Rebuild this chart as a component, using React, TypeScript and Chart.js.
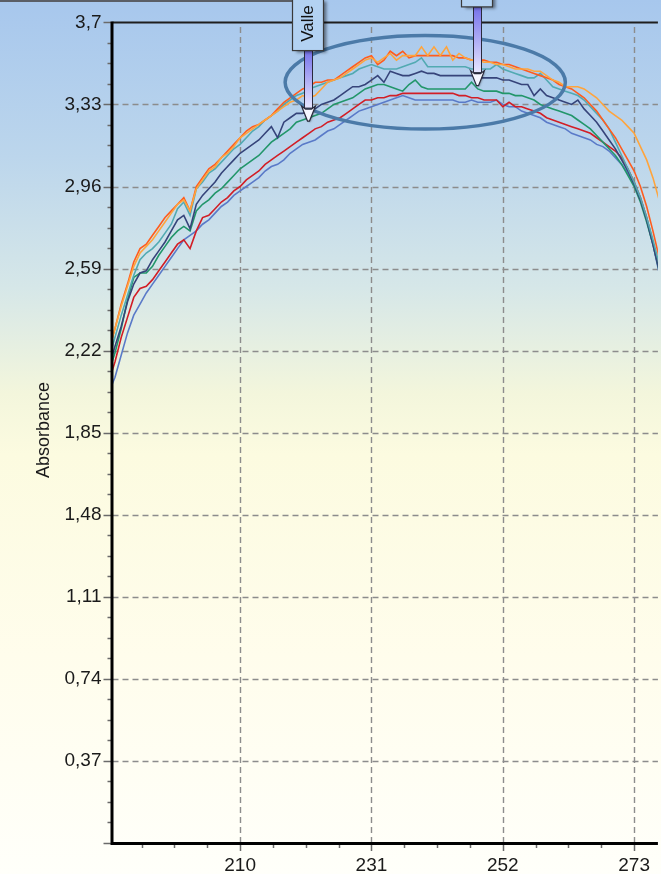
import React, { useEffect, useRef } from "react";
import { Chart, registerables } from "chart.js";

Chart.register(...registerables);

const WAVELENGTHS = [
  189, 190, 191, 192, 193, 194, 195, 196, 197, 198,
  199, 200, 201, 202, 203, 204, 205, 206, 207, 208,
  209, 210, 211, 212, 213, 214, 215, 216, 217, 218,
  219, 220, 221, 222, 223, 224, 225, 226, 227, 228,
  229, 230, 231, 232, 233, 234, 235, 236, 237, 238,
  239, 240, 241, 242, 243, 244, 245, 246, 247, 248,
  249, 250, 251, 252, 253, 254, 255, 256, 257, 258,
  259, 260, 261, 262, 263, 264, 265, 266, 267, 268,
  269, 270, 271, 272, 273, 274, 275, 276, 277,
];

const SERIES_ORANGE_RED = [
  2.22, 2.32, 2.43, 2.52, 2.62, 2.68, 2.70, 2.74, 2.78, 2.82,
  2.85, 2.88, 2.91, 2.85, 2.96, 3.00, 3.04, 3.06, 3.09, 3.12,
  3.15, 3.18, 3.21, 3.23, 3.24, 3.26, 3.28, 3.31, 3.34, 3.36,
  3.38, 3.40, 3.41, 3.43, 3.43, 3.44, 3.44, 3.46, 3.48, 3.50,
  3.52, 3.54, 3.55, 3.51, 3.53, 3.57, 3.55, 3.57, 3.54, 3.55,
  3.55, 3.55, 3.55, 3.55, 3.55, 3.55, 3.54, 3.54, 3.53, 3.53,
  3.53, 3.52, 3.52, 3.51, 3.51, 3.50, 3.49, 3.48, 3.47, 3.46,
  3.45, 3.44, 3.42, 3.41, 3.40, 3.38, 3.36, 3.33, 3.30, 3.26,
  3.22, 3.18, 3.13, 3.08, 3.03, 2.96, 2.87, 2.76, 2.64,
];

const SERIES_LIGHT_ORANGE = [
  2.22, 2.32, 2.42, 2.51, 2.60, 2.66, 2.69, 2.72, 2.76, 2.80,
  2.84, 2.88, 2.90, 2.85, 2.95, 2.99, 3.03, 3.05, 3.09, 3.11,
  3.14, 3.18, 3.20, 3.22, 3.24, 3.26, 3.28, 3.30, 3.32, 3.34,
  3.35, 3.37, 3.36, 3.37, 3.40, 3.43, 3.44, 3.45, 3.47, 3.49,
  3.51, 3.53, 3.54, 3.52, 3.54, 3.56, 3.53, 3.55, 3.55, 3.55,
  3.59, 3.55, 3.59, 3.55, 3.59, 3.53, 3.56, 3.54, 3.53, 3.53,
  3.52, 3.52, 3.51, 3.51, 3.50, 3.49, 3.49, 3.49, 3.48, 3.48,
  3.46, 3.44, 3.43, 3.41, 3.41, 3.41, 3.40, 3.38, 3.36, 3.33,
  3.30, 3.28, 3.26, 3.23, 3.20, 3.14, 3.08, 3.00, 2.90,
];

const SERIES_TEAL = [
  2.18, 2.28, 2.38, 2.47, 2.56, 2.63, 2.66, 2.68, 2.71, 2.75,
  2.79, 2.86, 2.89, 2.83, 2.95, 2.98, 3.02, 3.04, 3.07, 3.10,
  3.13, 3.15, 3.18, 3.21, 3.23, 3.26, 3.28, 3.30, 3.33, 3.35,
  3.37, 3.38, 3.40, 3.41, 3.42, 3.43, 3.44, 3.45, 3.46, 3.47,
  3.49, 3.50, 3.51, 3.50, 3.49, 3.49, 3.49, 3.50, 3.51, 3.52,
  3.54, 3.50, 3.50, 3.50, 3.50, 3.50, 3.50, 3.50, 3.49, 3.49,
  3.49, 3.49, 3.51, 3.49, 3.48, 3.47, 3.46, 3.45, 3.45, 3.47,
  3.44, 3.41, 3.40, 3.39, 3.38, 3.37, 3.35, 3.32, 3.29, 3.26,
  3.22, 3.16, 3.10, 3.04, 2.98, 2.91, 2.82, 2.72, 2.61,
];

const SERIES_NAVY = [
  2.14, 2.24, 2.33, 2.44, 2.52, 2.57, 2.58, 2.63, 2.67, 2.71,
  2.76, 2.81, 2.83, 2.77, 2.88, 2.92, 2.95, 2.98, 3.02, 3.05,
  3.08, 3.11, 3.13, 3.15, 3.17, 3.20, 3.23, 3.18, 3.25, 3.27,
  3.29, 3.29, 3.30, 3.31, 3.33, 3.34, 3.35, 3.37, 3.39, 3.41,
  3.41, 3.42, 3.44, 3.46, 3.43, 3.48, 3.47, 3.46, 3.46, 3.47,
  3.48, 3.47, 3.47, 3.46, 3.46, 3.46, 3.46, 3.46, 3.46, 3.45,
  3.45, 3.45, 3.45, 3.44, 3.44, 3.43, 3.42, 3.42, 3.37, 3.40,
  3.37, 3.36, 3.35, 3.34, 3.33, 3.35, 3.31, 3.28, 3.25, 3.21,
  3.17, 3.13, 3.08, 3.03, 2.97, 2.90, 2.81, 2.70, 2.58,
];

const SERIES_GREEN = [
  2.12, 2.21, 2.32, 2.45, 2.55, 2.57, 2.57, 2.60, 2.65, 2.69,
  2.73, 2.76, 2.78, 2.76, 2.85, 2.88, 2.90, 2.93, 2.95, 2.98,
  3.01, 3.04, 3.06, 3.08, 3.10, 3.13, 3.16, 3.18, 3.20, 3.22,
  3.25, 3.26, 3.27, 3.28, 3.29, 3.31, 3.33, 3.34, 3.35, 3.36,
  3.38, 3.40, 3.41, 3.42, 3.42, 3.41, 3.40, 3.39, 3.42, 3.44,
  3.41, 3.40, 3.40, 3.40, 3.40, 3.40, 3.40, 3.40, 3.43, 3.40,
  3.39, 3.39, 3.39, 3.38, 3.38, 3.37, 3.37, 3.36, 3.35, 3.33,
  3.32, 3.31, 3.30, 3.29, 3.28, 3.26, 3.24, 3.22, 3.19, 3.16,
  3.13, 3.10, 3.06, 3.01, 2.96, 2.89, 2.80, 2.70, 2.58,
];

const SERIES_RED = [
  2.08, 2.17, 2.28, 2.37, 2.46, 2.50, 2.51, 2.54, 2.58, 2.62,
  2.66, 2.70, 2.72, 2.68, 2.76, 2.82, 2.83, 2.86, 2.89, 2.91,
  2.94, 2.96, 2.99, 3.01, 3.03, 3.06, 3.08, 3.10, 3.12, 3.14,
  3.16, 3.18, 3.20, 3.22, 3.23, 3.25, 3.26, 3.27, 3.29, 3.31,
  3.33, 3.35, 3.35, 3.36, 3.36, 3.37, 3.37, 3.38, 3.38, 3.38,
  3.38, 3.38, 3.38, 3.38, 3.38, 3.38, 3.37, 3.37, 3.36, 3.36,
  3.35, 3.35, 3.35, 3.32, 3.34, 3.32, 3.32, 3.31, 3.30, 3.29,
  3.27, 3.26, 3.25, 3.24, 3.23, 3.22, 3.21, 3.20, 3.18, 3.16,
  3.14, 3.12, 3.09, 3.04, 2.98, 2.91, 2.82, 2.71, 2.59,
];

const SERIES_BLUE = [
  2.03, 2.10, 2.20, 2.30, 2.38, 2.43, 2.48, 2.52, 2.56, 2.60,
  2.64, 2.68, 2.72, 2.74, 2.76, 2.79, 2.81, 2.84, 2.87, 2.89,
  2.92, 2.94, 2.96, 2.98, 3.00, 3.03, 3.05, 3.06, 3.08, 3.11,
  3.13, 3.15, 3.16, 3.17, 3.19, 3.21, 3.22, 3.24, 3.26, 3.28,
  3.30, 3.31, 3.32, 3.33, 3.34, 3.35, 3.36, 3.37, 3.36, 3.35,
  3.35, 3.35, 3.35, 3.35, 3.35, 3.35, 3.34, 3.34, 3.35, 3.34,
  3.34, 3.34, 3.35, 3.33, 3.32, 3.32, 3.30, 3.29, 3.28, 3.27,
  3.25, 3.24, 3.23, 3.22, 3.20, 3.19, 3.18, 3.17, 3.15, 3.14,
  3.12, 3.09, 3.06, 3.02, 2.97, 2.90, 2.81, 2.70, 2.57,
];

const SERIES_NAMES = ["Muestra 1", "Muestra 2", "Muestra 3", "Muestra 4", "Muestra 5", "Muestra 6", "Muestra 7"];
const SERIES_COLORS = ["#ffa43c", "#ff5c1e", "#52aab2", "#36447a", "#22966a", "#d21e26", "#5a7ac8"];

const X_TICKS = [210, 231, 252, 273];
const Y_TICKS = [0, 0.37, 0.74, 1.11, 1.48, 1.85, 2.22, 2.59, 2.96, 3.33, 3.7];
const Y_TICK_LABELS = ["", "0,37", "0,74", "1,11", "1,48", "1,85", "2,22", "2,59", "2,96", "3,33", "3,7"];
const Y_TITLE = "Absorbance";
const VALLEY_LABEL = "Valle";

// annotation anchors in data units
const VALLEY_ARROW = { x: 220.8, tip: 3.255, boxBottom: 3.573 };
const PEAK_ARROW = { x: 247.9, tip: 3.415, boxBottom: 3.77 };
const HIGHLIGHT = { x: 239.6, y: 3.43, rx: 22.4, ry: 0.211 };

const X_MIN = 189.6;
const X_MAX = 276.8;
const Y_MAX = 3.7;
const PLOT_TOP = 18.6;
const FONT = "'Liberation Sans', Arial, sans-serif";

function minorValues(majors: number[], min: number, max: number) {
  const out: number[] = [];
  const step = (majors[1] - majors[0]) / 4;
  const first = majors[0];
  const last = majors[majors.length - 1];
  for (let v = first - step; v >= min - 1e-9; v -= step) out.push(v);
  for (let i = 0; i < majors.length - 1; i++) {
    for (let k = 1; k < 4; k++) out.push(majors[i] + step * k);
  }
  for (let v = last + step; v <= max + 1e-9; v += step) out.push(v);
  return out;
}

const backgroundPlugin = {
  id: "bgGradient",
  beforeDraw(chart: any) {
    const { ctx, width, height } = chart;
    ctx.save();
    const g = ctx.createLinearGradient(0, 0, 0, height);
    g.addColorStop(0, "#a7c7ed");
    g.addColorStop(0.18, "#bcd6ec");
    g.addColorStop(0.33, "#d6e7e8");
    g.addColorStop(0.45, "#f3f6dc");
    g.addColorStop(0.52, "#fcfbe0");
    g.addColorStop(0.75, "#fffdec");
    g.addColorStop(1, "#fffffa");
    ctx.fillStyle = g;
    ctx.fillRect(0, 0, width, height);
    ctx.fillStyle = "#5a5e66";
    ctx.fillRect(0, 0, 292, 2);
    ctx.restore();
  },
};

const gridPlugin = {
  id: "dashedGrid",
  beforeDatasetsDraw(chart: any) {
    const { ctx, chartArea, scales } = chart;
    const { left, right } = chartArea;
    const top = scales.y.getPixelForValue(Y_MAX);
    const bottom = scales.y.getPixelForValue(0);
    ctx.save();
    ctx.strokeStyle = "#8c8c8c";
    ctx.lineWidth = 1.4;
    ctx.setLineDash([6, 4]);
    X_TICKS.forEach((v) => {
      const px = Math.round(scales.x.getPixelForValue(v)) + 0.5;
      ctx.beginPath();
      ctx.moveTo(px, bottom);
      ctx.lineTo(px, top);
      ctx.stroke();
    });
    Y_TICKS.forEach((v) => {
      if (v <= 0 || v >= Y_MAX) return;
      const py = Math.round(scales.y.getPixelForValue(v)) + 0.5;
      ctx.beginPath();
      ctx.moveTo(left, py);
      ctx.lineTo(right, py);
      ctx.stroke();
    });
    ctx.restore();
  },
};

const framePlugin = {
  id: "frame",
  afterDatasetsDraw(chart: any) {
    const { ctx, chartArea, scales } = chart;
    const { left, right } = chartArea;
    const top = scales.y.getPixelForValue(Y_MAX);
    const bottom = scales.y.getPixelForValue(0);
    ctx.save();
    ctx.strokeStyle = "#6a6a6a";
    ctx.lineWidth = 1.5;
    Y_TICKS.forEach((v) => {
      const py = Math.round(scales.y.getPixelForValue(v)) + 0.5;
      ctx.beginPath();
      ctx.moveTo(left - 9, py);
      ctx.lineTo(left, py);
      ctx.stroke();
    });
    minorValues(Y_TICKS, 0, Y_MAX).forEach((v) => {
      const py = Math.round(scales.y.getPixelForValue(v)) + 0.5;
      ctx.beginPath();
      ctx.moveTo(left - 5, py);
      ctx.lineTo(left, py);
      ctx.stroke();
    });
    X_TICKS.forEach((v) => {
      const px = Math.round(scales.x.getPixelForValue(v)) + 0.5;
      ctx.beginPath();
      ctx.moveTo(px, bottom);
      ctx.lineTo(px, bottom + 8);
      ctx.stroke();
    });
    minorValues(X_TICKS, X_MIN, X_MAX).forEach((v) => {
      const px = Math.round(scales.x.getPixelForValue(v)) + 0.5;
      ctx.beginPath();
      ctx.moveTo(px, bottom);
      ctx.lineTo(px, bottom + 5);
      ctx.stroke();
    });
    ctx.strokeStyle = "#1e1e1e";
    ctx.lineWidth = 2;
    ctx.beginPath();
    ctx.moveTo(left, top);
    ctx.lineTo(right, top);
    ctx.stroke();
    ctx.strokeStyle = "#000";
    ctx.lineWidth = 3;
    ctx.beginPath();
    ctx.moveTo(left - 0.5, top - 1);
    ctx.lineTo(left - 0.5, bottom + 0.5);
    ctx.lineTo(right, bottom + 0.5);
    ctx.stroke();
    ctx.fillStyle = "#1a1a1a";
    ctx.font = `18px ${FONT}`;
    ctx.textAlign = "center";
    ctx.textBaseline = "middle";
    ctx.translate(44, 430);
    ctx.rotate(-Math.PI / 2);
    ctx.fillText(Y_TITLE, 0, 0);
    ctx.restore();
  },
};

function drawArrow(ctx: CanvasRenderingContext2D, cx: number, y0: number, tip: number) {
  const headH = 15;
  const shaftEnd = tip - headH + 2;
  ctx.save();
  const g = ctx.createLinearGradient(0, y0, 0, shaftEnd);
  g.addColorStop(0, "#7672ea");
  g.addColorStop(1, "#e6e6ff");
  ctx.fillStyle = g;
  ctx.strokeStyle = "#2a2a3c";
  ctx.lineWidth = 1;
  ctx.fillRect(cx - 4, y0, 8, shaftEnd - y0);
  ctx.strokeRect(cx - 4, y0, 8, shaftEnd - y0);
  ctx.shadowColor = "rgba(0,0,0,0.35)";
  ctx.shadowBlur = 2;
  ctx.shadowOffsetX = 1;
  ctx.shadowOffsetY = 1;
  ctx.beginPath();
  ctx.moveTo(cx - 7, tip - headH);
  ctx.lineTo(cx - 3, tip - headH + 3);
  ctx.lineTo(cx + 3, tip - headH + 3);
  ctx.lineTo(cx + 7, tip - headH);
  ctx.lineTo(cx + 1, tip);
  ctx.lineTo(cx - 1, tip);
  ctx.closePath();
  ctx.fillStyle = "#f6f6ff";
  ctx.fill();
  ctx.shadowColor = "transparent";
  ctx.lineWidth = 1.2;
  ctx.stroke();
  ctx.restore();
}

function drawLabelBox(ctx: CanvasRenderingContext2D, cx: number, bottomY: number, text: string) {
  const w = 31;
  const h = 52;
  const x = cx - w / 2 - 0.5;
  const y = bottomY - h;
  ctx.save();
  ctx.shadowColor = "rgba(0,0,0,0.45)";
  ctx.shadowBlur = 3;
  ctx.shadowOffsetX = 3;
  ctx.shadowOffsetY = 2;
  ctx.fillStyle = "#b3d2f2";
  ctx.fillRect(x, y, w, h);
  ctx.shadowColor = "transparent";
  ctx.strokeStyle = "#3a3a3a";
  ctx.lineWidth = 1.2;
  ctx.strokeRect(x, y, w, h);
  if (text) {
    ctx.fillStyle = "#111";
    ctx.font = `17px ${FONT}`;
    ctx.textAlign = "center";
    ctx.textBaseline = "middle";
    ctx.translate(cx, bottomY - 27);
    ctx.rotate(-Math.PI / 2);
    ctx.fillText(text, 0, 0);
  }
  ctx.restore();
}

const annotationPlugin = {
  id: "annotations",
  afterDraw(chart: any) {
    const { ctx, scales } = chart;
    const xs = scales.x;
    const ys = scales.y;
    const ex = xs.getPixelForValue(HIGHLIGHT.x);
    const ey = ys.getPixelForValue(HIGHLIGHT.y);
    const erx = xs.getPixelForValue(HIGHLIGHT.x + HIGHLIGHT.rx) - ex;
    const ery = ey - ys.getPixelForValue(HIGHLIGHT.y + HIGHLIGHT.ry);
    ctx.save();
    ctx.strokeStyle = "#4b7aa8";
    ctx.lineWidth = 3.5;
    ctx.beginPath();
    ctx.ellipse(ex, ey, erx, ery, 0, 0, Math.PI * 2);
    ctx.stroke();
    ctx.restore();

    [
      { a: VALLEY_ARROW, label: VALLEY_LABEL },
      { a: PEAK_ARROW, label: "" },
    ].forEach(({ a, label }) => {
      const cx = Math.round(xs.getPixelForValue(a.x)) + 0.5;
      const bottomY = ys.getPixelForValue(a.boxBottom);
      const tipY = ys.getPixelForValue(a.tip);
      drawArrow(ctx, cx, bottomY, tipY);
      drawLabelBox(ctx, cx, bottomY, label);
    });
  },
};

const DATA_SERIES = [
  SERIES_LIGHT_ORANGE,
  SERIES_ORANGE_RED,
  SERIES_TEAL,
  SERIES_NAVY,
  SERIES_GREEN,
  SERIES_RED,
  SERIES_BLUE,
];

export default function App() {
  const ref = useRef<HTMLCanvasElement | null>(null);

  useEffect(() => {
    if (!ref.current) return;
    const chart: any = new Chart(ref.current, {
      type: "line",
      data: {
        datasets: DATA_SERIES.map((s, i) => ({
          label: SERIES_NAMES[i],
          data: WAVELENGTHS.map((w, j) => ({ x: w, y: s[j] })),
          borderColor: SERIES_COLORS[i],
          backgroundColor: SERIES_COLORS[i],
          borderWidth: 1.6,
          pointRadius: 0,
          tension: 0,
          fill: false,
        })),
      },
      options: {
        responsive: false,
        maintainAspectRatio: false,
        animation: false,
        devicePixelRatio: 1,
        layout: { autoPadding: false, padding: { top: PLOT_TOP, right: 0, bottom: 0, left: 0 } },
        plugins: {
          legend: { display: false },
          tooltip: { enabled: false },
        },
        scales: {
          x: {
            type: "linear",
            min: X_MIN,
            max: X_MAX,
            grid: { display: false, drawTicks: false },
            border: { display: false },
            afterBuildTicks: (s: any) => {
              s.ticks = X_TICKS.map((v) => ({ value: v }));
            },
            afterFit: (s: any) => {
              s.height = 31;
            },
            ticks: {
              autoSkip: false,
              maxRotation: 0,
              padding: 11,
              color: "#1a1a1a",
              font: { family: FONT, size: 19 },
              callback: (v: any) => String(v),
            },
          },
          y: {
            type: "linear",
            min: 0,
            max: Y_MAX,
            grid: { display: false, drawTicks: false },
            border: { display: false },
            afterBuildTicks: (s: any) => {
              s.ticks = Y_TICKS.map((v) => ({ value: v }));
            },
            afterFit: (s: any) => {
              s.width = 112.5;
            },
            ticks: {
              autoSkip: false,
              padding: 11,
              color: "#1a1a1a",
              font: { family: FONT, size: 19 },
              callback: (_v: any, i: number) => Y_TICK_LABELS[i],
            },
          },
        },
      },
      plugins: [backgroundPlugin, gridPlugin, framePlugin, annotationPlugin],
    } as any);
    // pin the y-axis maximum to the reference pixel row
    for (let k = 0; k < 4; k++) {
      const dt = chart.scales.y.getPixelForValue(Y_MAX) - PLOT_TOP;
      if (Math.abs(dt) < 0.2) break;
      chart.options.layout.padding.top -= dt;
      chart.update();
    }
    return () => chart.destroy();
  }, []);

  return (
    <div style={{ position: "absolute", left: 0, top: 0, width: 661, height: 874, overflow: "hidden" }}>
      <canvas ref={ref} width={661} height={874} style={{ width: 661, height: 874, display: "block" }} />
    </div>
  );
}
